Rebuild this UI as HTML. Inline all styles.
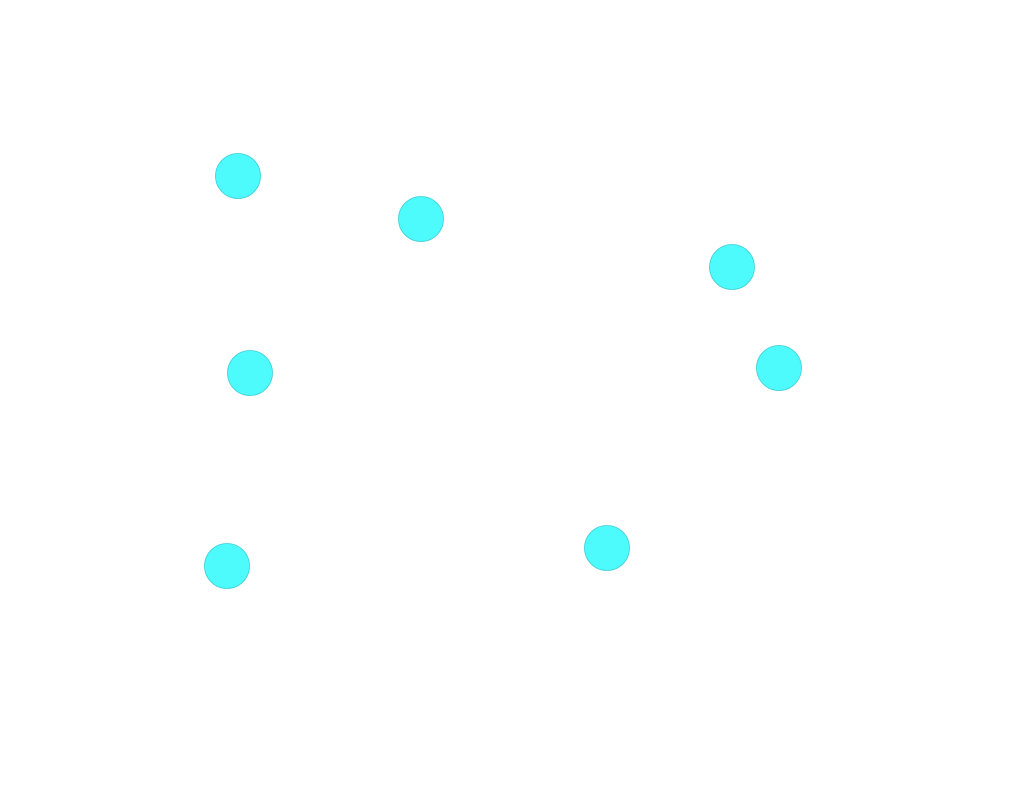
<!DOCTYPE html>
<html><head><style>html,body{margin:0;padding:0;background:#fff;}</style></head>
<body>
<svg width="1024" height="807" xmlns="http://www.w3.org/2000/svg">
<g fill="#4dfbfd" stroke="#3fd0d8" stroke-width="0.8">
<circle cx="238" cy="176" r="22.5"/>
<circle cx="421" cy="219" r="22.5"/>
<circle cx="732" cy="267" r="22.5"/>
<circle cx="250" cy="373" r="22.5"/>
<circle cx="779" cy="368" r="22.5"/>
<circle cx="227" cy="566" r="22.5"/>
<circle cx="607" cy="548" r="22.5"/>
</g>
</svg>
</body></html>
